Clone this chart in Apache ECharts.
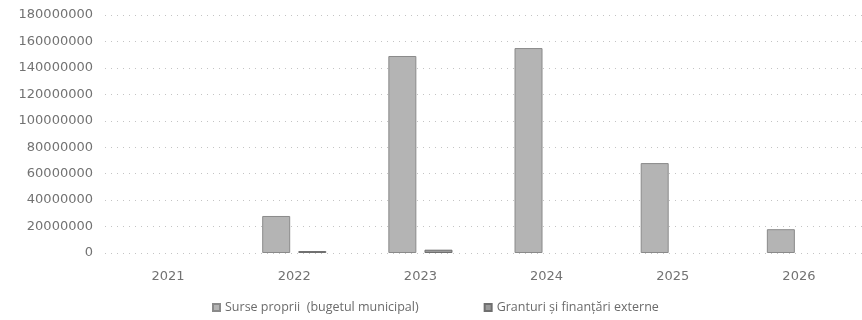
<!DOCTYPE html>
<html>
<head>
<meta charset="utf-8">
<script src="https://cdn.jsdelivr.net/npm/echarts@6/dist/echarts.min.js"></script>
<style>
  html, body { margin: 0; padding: 0; background: #fff; }
  #chart { width: 862px; height: 320px; }
</style>
</head>
<body>
<div id="chart"></div>
<script>
// Funding sources by year (lei)
const years = ['2021', '2022', '2023', '2024', '2025', '2026'];
const surseProprii = [0, 28000000, 149000000, 155000000, 68000000, 18000000];
const granturi = [0, 1500000, 2500000, 0, 0, 0];
const seriesNames = ['Surse proprii  (bugetul municipal)', 'Granturi și finanțări externe'];

// empty years get no bar at all
const asBars = arr => arr.map(v => (v === 0 ? null : v));

const axisFont = { fontFamily: 'DejaVu Sans', fontSize: 13, color: '#727272' };

const chart = echarts.init(document.getElementById('chart'), null, { renderer: 'canvas' });
chart.setOption({
  animation: false,
  backgroundColor: '#ffffff',
  grid: { left: 105, top: 15, width: 767, height: 238 },
  legend: {
    left: 207,
    top: 296,
    itemWidth: 7,
    itemHeight: 7,
    itemGap: 65,
    icon: 'rect',
    textStyle: { fontFamily: 'Open Sans', fontSize: 12.5, color: '#6b6b6b' },
    data: seriesNames
  },
  xAxis: {
    type: 'category',
    data: years,
    axisLine: { show: false },
    axisTick: { show: false },
    axisLabel: Object.assign({ margin: 17 }, axisFont)
  },
  yAxis: {
    type: 'value',
    min: 0,
    max: 180000000,
    interval: 20000000,
    axisLine: { show: false },
    axisTick: { show: false },
    axisLabel: Object.assign({ margin: 12, formatter: v => String(v) }, axisFont),
    splitLine: { lineStyle: { color: '#c4c4c4', width: 1, type: [1, 5] } }
  },
  series: [
    {
      name: seriesNames[0],
      type: 'bar',
      data: asBars(surseProprii),
      barWidth: 28,
      barGap: '29%',
      itemStyle: { color: '#b4b4b4', borderColor: '#8a8a8a', borderWidth: 1 }
    },
    {
      name: seriesNames[1],
      type: 'bar',
      data: asBars(granturi),
      barWidth: 28,
      itemStyle: { color: '#9a9a9a', borderColor: '#6f6f6f', borderWidth: 1 }
    }
  ]
});
</script>
</body>
</html>
